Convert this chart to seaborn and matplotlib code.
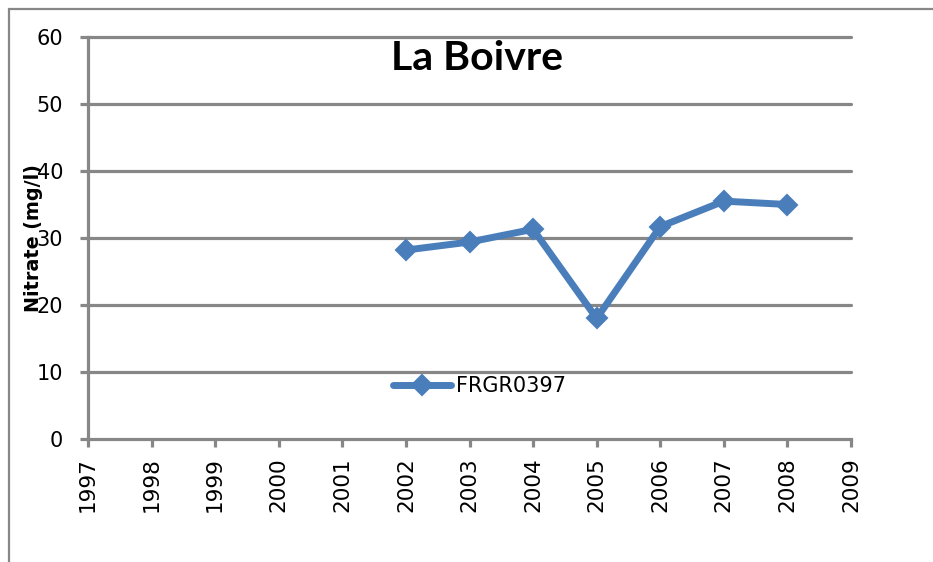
import matplotlib
matplotlib.use("Agg")
import matplotlib.pyplot as plt
import seaborn as sns
import pandas as pd
from matplotlib.patches import Rectangle

years = [2002, 2003, 2004, 2005, 2006, 2007, 2008]
nitrate = [28.2, 29.4, 31.3, 18.0, 31.7, 35.5, 35.0]
series_name = "FRGR0397"
x_ticks = list(range(1997, 2010))
y_ticks = [0, 10, 20, 30, 40, 50, 60]
title = "La Boivre"
ylabel = "Nitrate (mg/l)"

sns.set_style("white")
plt.rcParams['font.family'] = ['DejaVu Sans']

W, H = 933, 562
fig = plt.figure(figsize=(W / 100, H / 100), dpi=100)
ax = fig.add_axes([88 / W, 1 - 439 / H, (851 - 88) / W, (439 - 37) / H])

grey = "#878787"
blue = "#4A7EBB"

# chart area border
fig.patches.append(Rectangle((9 / W, -0.1), 1.2, 1 - 9 / H + 0.1, transform=fig.transFigure,
                             fill=False, edgecolor=grey, linewidth=1.6, zorder=0))

df = pd.DataFrame({"year": years, "nitrate": nitrate, "series": series_name})
sns.lineplot(data=df, x="year", y="nitrate", hue="series", palette=[blue], marker="D",
             markersize=10, markeredgecolor=blue, markeredgewidth=1.5,
             linewidth=5, ax=ax, zorder=5)

ax.set_xlim(1997, 2009)
ax.set_ylim(0, 60)
ax.set_xticks(x_ticks)
ax.set_xticklabels([str(t) for t in x_ticks], rotation=90, fontsize=15.5)
ax.set_yticks(y_ticks)
ax.set_yticklabels([str(t) for t in y_ticks], fontsize=15)
ax.set_xlabel("")
ax.set_ylabel("")

for y in y_ticks[1:]:
    ax.axhline(y, color=grey, linewidth=2.3, zorder=1, clip_on=False)

for s in ["top", "right"]:
    ax.spines[s].set_visible(False)
for s in ["left", "bottom"]:
    ax.spines[s].set_color(grey)
    ax.spines[s].set_linewidth(2.3)

ax.tick_params(axis="both", which="major", direction="out", length=6, width=2.3,
               color=grey, labelcolor="black", left=True, bottom=True)
ax.tick_params(axis="y", pad=12)
ax.tick_params(axis="x", pad=7)

ax.text((477 - 88) / 763, (439 - 70) / 402, title, transform=ax.transAxes, ha="center",
        va="baseline", fontsize=29.5, fontweight="bold", family="Lato", color="black")

fig.text(34 / W, 1 - 238 / H, ylabel, rotation=90, ha="center", va="center",
         fontsize=13.8, fontweight="bold", color="black")

leg = ax.legend(loc="center left", bbox_to_anchor=((393 - 88) / 763, (439 - 386) / 402),
                frameon=False, fontsize=15, handlelength=2.8, handletextpad=0.2,
                borderpad=0, borderaxespad=0)
for t in leg.get_texts():
    t.set_color("black")

fig.savefig("out.png", dpi=100, facecolor="white")
